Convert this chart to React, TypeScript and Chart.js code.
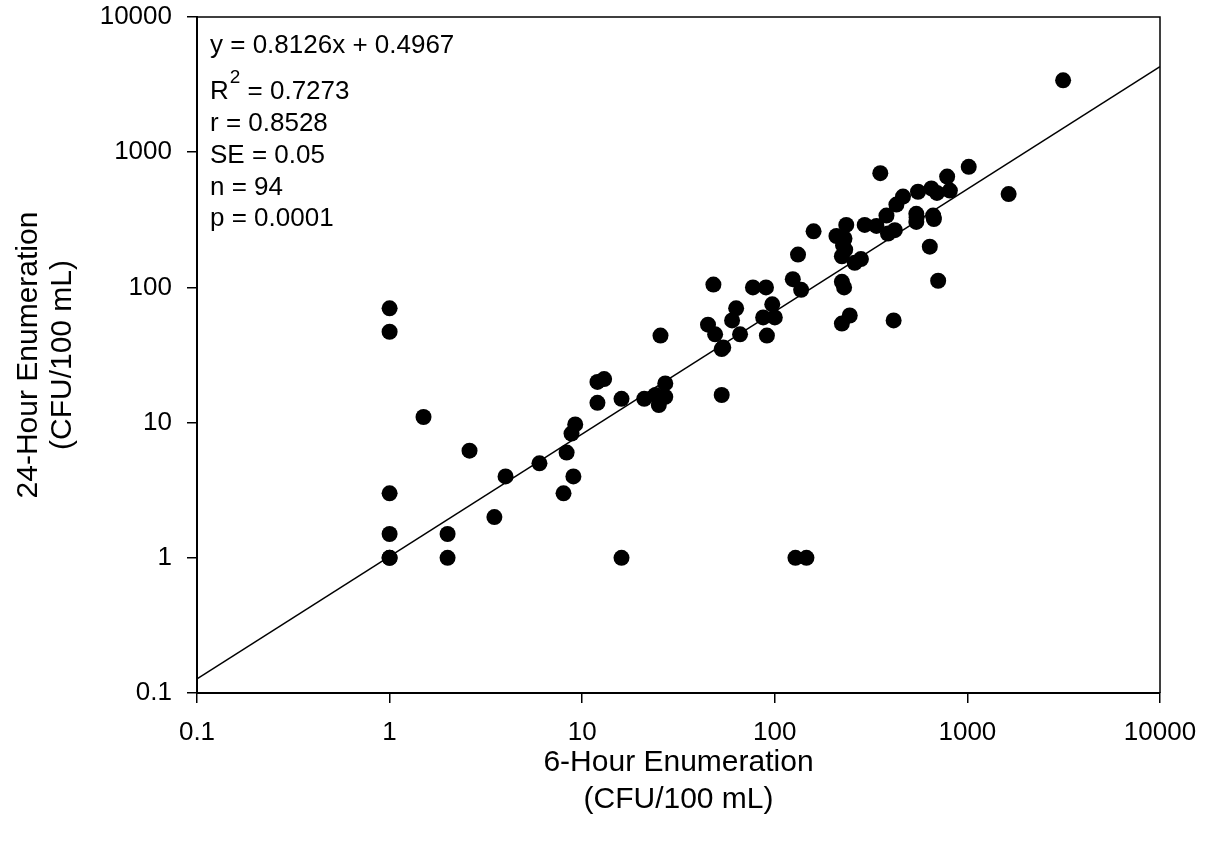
import React, { useEffect, useRef } from 'react';
import { Chart, registerables } from 'chart.js';

Chart.register(...registerables);

// 6-hour enumeration (x) and 24-hour enumeration (y), CFU/100 mL
const hour6 = [
  1, 1, 1, 1, 1, 1.5, 2, 2, 2.6, 3.5, 4, 6, 8, 8.3, 8.8, 9, 9.2, 12, 13, 12,
  16, 16, 21, 24, 25, 27, 27, 25.5, 48, 45, 49, 53, 53, 63, 60, 66, 77, 90, 97, 87,
  100, 91, 124, 132, 137, 159, 128, 146, 209, 235, 226, 223, 260, 280, 223, 229, 223, 245, 353, 293,
  337, 380, 387, 420, 428, 463, 414, 543, 543, 554, 650, 695, 785, 811, 664, 670, 638, 705, 1016, 1637,
  3140, 1, 230, 232, 54, 545, 668,
];
const hour24 = [
  70, 47, 3, 1.5, 1, 11, 1.5, 1, 6.2, 2, 4, 5, 3, 6, 8.3, 4, 9.7, 20, 21, 14,
  15, 1, 15, 16, 13.5, 15.5, 19.5, 44, 105, 53, 45, 35, 16, 70, 57, 45, 100, 100, 75, 60,
  60, 44, 115, 175, 96, 260, 1, 1, 240, 290, 205, 170, 152, 162, 110, 100, 54, 62, 700, 290,
  285, 340, 250, 265, 410, 470, 57, 350, 305, 510, 540, 500, 660, 520, 340, 320, 200, 112, 780, 490,
  3400, 1, 230, 190, 36, 330, 330,
];

// Regression line as drawn (end points)
const fitX = [0.1, 10000];
const fitY = [0.127, 4300];

const axisTicks = [0.1, 1, 10, 100, 1000, 10000];
const axisTickLabels = ['0.1', '1', '10', '100', '1000', '10000'];

const xTitle = ['6-Hour Enumeration', '(CFU/100 mL)'];
const yTitle = ['24-Hour Enumeration', '(CFU/100 mL)'];

const statsLine1 = 'y = 0.8126x + 0.4967';
const r2Base = 'R';
const r2Sup = '2';
const r2Rest = ' = 0.7273';
const statsRest = ['r = 0.8528', 'SE = 0.05', 'n = 94', 'p = 0.0001'];

const FONT = '"Liberation Sans", Arial, Helvetica, sans-serif';

function labelFor(v: number): string {
  for (let i = 0; i < axisTicks.length; i++) {
    if (Math.abs(Math.log10(v) - Math.log10(axisTicks[i])) < 1e-6) return axisTickLabels[i];
  }
  return '';
}

const framePlugin = {
  id: 'frameAndStats',
  afterDatasetsDraw(chart: any) {
    const { ctx, chartArea } = chart;
    const { left, right, top, bottom } = chartArea;
    ctx.save();
    ctx.strokeStyle = '#000';
    ctx.lineWidth = 1.5;
    ctx.beginPath();
    ctx.moveTo(left, top);
    ctx.lineTo(right, top);
    ctx.lineTo(right, bottom);
    ctx.stroke();

    ctx.fillStyle = '#000';
    ctx.textAlign = 'left';
    ctx.textBaseline = 'alphabetic';
    const x0 = left + 13;
    const main = `26px ${FONT}`;
    ctx.font = main;
    ctx.fillText(statsLine1, x0, top + 36);
    // R^2 line
    ctx.fillText(r2Base, x0, top + 82);
    const rw = ctx.measureText(r2Base).width;
    ctx.font = `19px ${FONT}`;
    ctx.fillText(r2Sup, x0 + rw + 1, top + 66);
    const sw = ctx.measureText(r2Sup).width;
    ctx.font = main;
    ctx.fillText(r2Rest, x0 + rw + sw + 1, top + 82);
    const offs = [114, 146, 178, 209];
    statsRest.forEach((t, i) => ctx.fillText(t, x0, top + offs[i]));
    ctx.restore();
  },
};

export default function App() {
  const canvasRef = useRef<HTMLCanvasElement | null>(null);

  useEffect(() => {
    if (!canvasRef.current) return;
    const points = hour6.map((x, i) => ({ x, y: hour24[i] }));
    const fit = fitX.map((x, i) => ({ x, y: fitY[i] }));
    const tickFont = { family: FONT, size: 26 };
    const chart = new Chart(canvasRef.current, {
      type: 'scatter',
      data: {
        datasets: [
          {
            type: 'line',
            label: 'Regression',
            data: fit,
            borderColor: '#000',
            borderWidth: 1.5,
            pointRadius: 0,
            fill: false,
            order: 1,
          } as any,
          {
            label: 'Samples',
            data: points,
            backgroundColor: '#000',
            borderColor: '#000',
            borderWidth: 0,
            pointRadius: 8,
            pointHoverRadius: 8,
            order: 2,
          },
        ],
      },
      options: {
        animation: false,
        responsive: true,
        maintainAspectRatio: false,
        layout: { padding: { left: 0, top: 17, right: 54, bottom: 0 } },
        plugins: { legend: { display: false }, tooltip: { enabled: false } },
        scales: {
          x: {
            type: 'logarithmic',
            position: 'bottom',
            min: 0.1,
            max: 10000,
            afterBuildTicks: (s: any) => {
              s.ticks = axisTicks.map((v) => ({ value: v }));
            },
            afterFit: (s: any) => {
              s.height = 156;
              s.paddingLeft = 0;
              s.paddingRight = 0;
            },
            ticks: {
              callback: (v: any) => labelFor(Number(v)),
              font: tickFont,
              color: '#000',
              padding: 14,
              maxRotation: 0,
              autoSkip: false,
            },
            grid: {
              display: true,
              drawOnChartArea: false,
              drawTicks: true,
              tickLength: 10,
              color: '#000',
              lineWidth: 1.5,
            },
            border: { display: true, color: '#000', width: 2 },
            title: {
              display: true,
              text: xTitle,
              color: '#000',
              font: { family: FONT, size: 30, lineHeight: 1.22 },
              padding: { top: 0, bottom: 31 },
            },
          },
          y: {
            type: 'logarithmic',
            position: 'left',
            min: 0.1,
            max: 10000,
            afterBuildTicks: (s: any) => {
              s.ticks = axisTicks.map((v) => ({ value: v }));
            },
            afterFit: (s: any) => {
              s.width = 197;
              s.paddingTop = 0;
              s.paddingBottom = 0;
            },
            ticks: {
              callback: (v: any) => labelFor(Number(v)),
              font: tickFont,
              color: '#000',
              padding: 15,
              autoSkip: false,
            },
            grid: {
              display: true,
              drawOnChartArea: false,
              drawTicks: true,
              tickLength: 10,
              color: '#000',
              lineWidth: 1.5,
            },
            border: { display: true, color: '#000', width: 2 },
            title: {
              display: true,
              text: yTitle,
              color: '#000',
              font: { family: FONT, size: 30, lineHeight: 1.12 },
              padding: { top: 12, bottom: 0 },
            },
          },
        },
      } as any,
      plugins: [framePlugin],
    });
    return () => chart.destroy();
  }, []);

  return (
    <div
      style={{
        position: 'fixed',
        left: 0,
        top: 0,
        width: 1214,
        height: 849,
        background: '#fff',
      }}
    >
      <canvas ref={canvasRef} />
    </div>
  );
}
